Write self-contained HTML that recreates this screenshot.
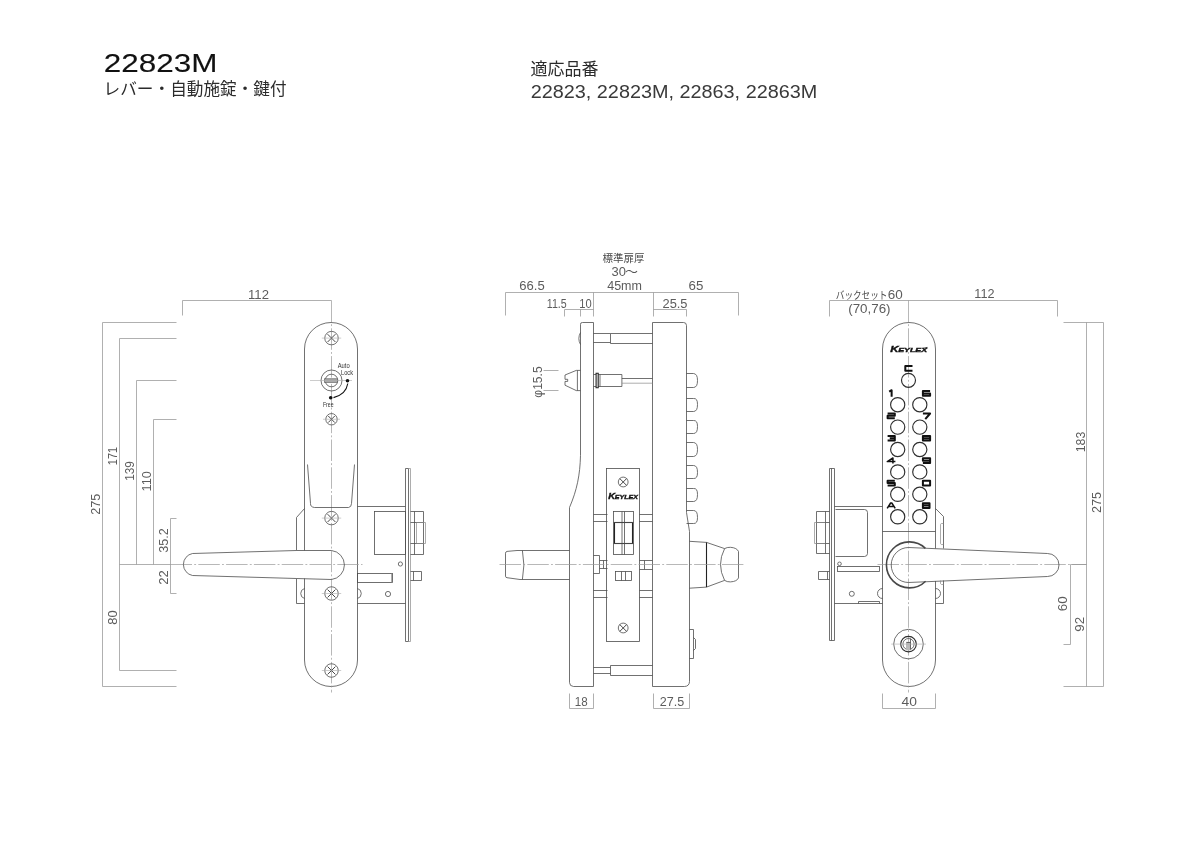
<!DOCTYPE html>
<html lang="ja"><head><meta charset="utf-8"><title>22823M</title>
<style>
html,body{margin:0;padding:0;background:#fff}
body{width:1200px;height:848px;overflow:hidden;font-family:"Liberation Sans",sans-serif}
svg{display:block;will-change:transform}
svg text{font-family:"Liberation Sans",sans-serif}
svg text.j{font-family:"Liberation Sans","Noto Sans CJK JP",sans-serif}
.o{fill:none;stroke:#4d4d4d;stroke-width:.8}
.x{fill:none;stroke:#333;stroke-width:.9}
.o2{fill:none;stroke:#8a8a8a;stroke-width:.7}
.o3{fill:none;stroke:#484848;stroke-width:1.6}
.o4{fill:none;stroke:#2e2e2e;stroke-width:1.15}

.lb{fill:none;stroke:#111;stroke-width:2;stroke-linejoin:round;stroke-linecap:butt}
.g2{fill:#bbb;stroke:none}
.d{fill:none;stroke:#969696;stroke-width:.75}
.c{fill:none;stroke:#999;stroke-width:.7;stroke-dasharray:21.5 2.2 1.9 2.2}
.c2{fill:none;stroke:#aaa;stroke-width:.6}
.g{fill:#aaa;stroke:#555;stroke-width:.6}
.k{fill:#111}
.k2{fill:none;stroke:#111;stroke-width:1.1}
.k3{fill:none;stroke:#222;stroke-width:1.1}
.t{fill:#5c5c5c}
.s{fill:#333}
.h{fill:#111;stroke:#111;stroke-width:.12}
.h2{fill:#3a3a3a}
.b{fill:#111;font-weight:bold}
.logo{fill:#111;font-weight:bold;font-style:italic;stroke:#111;stroke-width:.35}
</style></head>
<body>
<svg width="1200" height="848" viewBox="0 0 1200 848">
<text class="h" x="103.8" y="72" font-size="26.5" text-anchor="start" textLength="113.6" lengthAdjust="spacingAndGlyphs">22823M</text>
<text class="j" fill="#2b2b2b" x="103.6" y="95.4" font-size="16.6" text-anchor="start" textLength="183" lengthAdjust="spacingAndGlyphs">レバー・自動施錠・鍵付</text>
<text class="j" fill="#2b2b2b" x="530.4" y="75.4" font-size="17" text-anchor="start" textLength="68" lengthAdjust="spacingAndGlyphs">適応品番</text>
<text class="h2" x="530.7" y="98" font-size="17.5" text-anchor="start" textLength="286.6" lengthAdjust="spacingAndGlyphs">22823, 22823M, 22863, 22863M</text>
<path class="o" d="M304.5 550.5 V349.0 A26.5 26.5 0 0 1 357.5 349.0 V660.0 A26.5 26.5 0 0 1 304.5 660.0 V578.5"/>
<path class="c" d="M331.5 300.5L331.5 692.5"/>
<path class="c" d="M170.5 564.5L362.5 564.5"/>
<circle class="o" cx="331.5" cy="338.1" r="6.75"/>
<path class="x" d="M327.585 334.185L335.415 342.015M327.585 342.015L335.415 334.185"/>
<path class="c2" d="M321.8 338.1 L341.2 338.1"/>
<circle class="o" cx="331.5" cy="419.25" r="5.7"/>
<path class="x" d="M328.194 415.944L334.806 422.556M328.194 422.556L334.806 415.944"/>
<path class="c2" d="M323 419.25 L340 419.25"/>
<circle class="o" cx="331.5" cy="518.1" r="6.75"/>
<path class="x" d="M327.585 514.185L335.415 522.015M327.585 522.015L335.415 514.185"/>
<path class="c2" d="M321.8 518.1 L341.2 518.1"/>
<circle class="o" cx="331.5" cy="593.5" r="6.75"/>
<path class="x" d="M327.585 589.585L335.415 597.415M327.585 597.415L335.415 589.585"/>
<path class="c2" d="M321.8 593.5 L341.2 593.5"/>
<circle class="o" cx="331.5" cy="670.5" r="6.75"/>
<path class="x" d="M327.585 666.585L335.415 674.415M327.585 674.415L335.415 666.585"/>
<path class="c2" d="M321.8 670.5 L341.2 670.5"/>
<circle class="o" cx="331.5" cy="380.5" r="10.5"/>
<circle class="o" cx="331.5" cy="380.5" r="6.3"/>
<rect class="g" x="324.5" y="378.8" width="13" height="3.6"/>
<path class="c2" d="M310 380.5 L352 380.5"/>
<circle class="k" cx="347.5" cy="380.7" r="1.8"/>
<circle class="k" cx="330.7" cy="397.8" r="1.8"/>
<path class="k2" d="M347.8 383.5 Q346 394.5 333.5 397.6"/>
<text class="s" x="343.7" y="367.8" font-size="6.6" text-anchor="middle" textLength="12" lengthAdjust="spacingAndGlyphs">Auto</text>
<text class="s" x="347" y="374.6" font-size="6.6" text-anchor="middle" textLength="12" lengthAdjust="spacingAndGlyphs">Lock</text>
<text class="s" x="328.3" y="406.9" font-size="6.6" text-anchor="middle" textLength="10.7" lengthAdjust="spacingAndGlyphs">Free</text>
<path class="o" d="M307.5 464.5L310.5 503.5Q310.3 507 314.5 507.5H348.5Q351.5 507 351.5 503.5L354.5 464.5"/>
<path class="o" d="M331.5 550.5A14.6 14.6 0 0 1 331.5 579.5L296.5 578.5L192.5 575.5A11.2 11.2 0 0 1 192.5 553.5L296.5 550.5Z"/>
<path class="o" d="M304.5 508.5L296.5 517.5V550.5M296.5 578.5V603.5H304.5"/>
<path class="o" d="M304.5 588.5A5.2 5.2 0 0 0 304.5 598.5"/>
<path class="o" d="M357.5 588.5A5.2 5.2 0 0 1 357.5 598.5"/>
<path class="o" d="M357.5 506.5L405.5 506.5"/>
<path class="o" d="M357.5 603.5L405.5 603.5"/>
<rect class="o" x="374.5" y="511.5" width="31" height="43"/>
<rect class="o" x="357.5" y="573.5" width="35" height="9"/>
<path class="o2" d="M391.5 573.5L391.5 582.5"/>
<circle class="o" cx="400.4" cy="564" r="2.1"/>
<circle class="o" cx="388" cy="594" r="2.6"/>
<path class="o" d="M405.5 641.5V468.5H408.5V641.5Z"/>
<path class="o2" d="M408.5 468.5H410.5V641.5H408.5"/>
<path class="o" d="M410.5 511.5H423.5V554.5H410.5M414.5 511.5V554.5M410.5 522.5H423.5M410.5 543.5H423.5"/>
<path class="o2" d="M416.5 522.5H425.5V543.5H416.5Z"/>
<path class="o" d="M410.5 571.5H421.5V580.5H410.5M413.5 571.5V580.5"/>
<path class="d" d="M182.5 315.5L182.5 300.5L331.5 300.5"/>
<path class="d" d="M176.5 322.5L102.5 322.5L102.5 686.5L176.5 686.5"/>
<path class="d" d="M176.5 338.5L119.5 338.5L119.5 670.5L176.5 670.5"/>
<path class="d" d="M176.5 380.5L136.5 380.5L136.5 564.5"/>
<path class="d" d="M176.5 419.5L153.5 419.5L153.5 564.5"/>
<path class="d" d="M119.5 564.5L170.5 564.5"/>
<path class="d" d="M176.5 518.5L170.5 518.5L170.5 593.5L176.5 593.5"/>
<path class="o" d="M593.5 322.5H582.5Q580.3 322.4 580.5 324.5V455.5C580 475 577 490 569.5 507.5V682.5Q569.6 686.3 573.5 686.5H593.5Z"/>
<path class="o" d="M580.5 332.5Q577.2 338.7 580.5 344.5"/>
<path class="o" d="M652.5 322.5H683.5Q686.4 322.4 686.5 325.5V512.5L689.5 531.5V681.5Q689.3 686.3 684.5 686.5H652.5Z"/>
<path class="o" d="M593.5 333.5H610.5M593.5 342.5H610.5M652.5 333.5H610.5V343.5H652.5"/>
<path class="o" d="M593.5 667.5H610.5M593.5 673.5H610.5M652.5 665.5H610.5V675.5H652.5"/>
<path class="o" d="M580.5 370.4 H576.3 L565 375 V379.3 H567.7 V381.4 H565 V385.2 L576.3 390.6 H580.5 M577.4 370.4 V390.6"/>
<path class="d" d="M543.5 370.5L558.5 370.5"/>
<path class="d" d="M543.5 390.5L558.5 390.5"/>
<path class="o" d="M593.5 374.5 H596 M593.5 386.5 H596 M598.3 374.5 H621.9 V386.5 H598.3 M600 374.5 V386.5 M621.9 378.5 H652.5"/>
<path class="k3" d="M596.1 373.3 H598.2 V387.7 H596.1 Z"/>
<path class="o2" d="M621.9 383.2 H652.5"/>
<path class="o" d="M686.5 373.5H693.5Q697.6 373.9 697.5 380.5Q697.6 387.3 693.5 387.5H686.5"/>
<path class="o" d="M686.5 398.5H693.5Q697.6 398 697.5 404.5Q697.6 411.4 693.5 411.5H686.5"/>
<path class="o" d="M686.5 420.5H693.5Q697.6 420.2 697.5 426.5Q697.6 433.6 693.5 433.5H686.5"/>
<path class="o" d="M686.5 442.5H693.5Q697.6 442.7 697.5 449.5Q697.6 456.1 693.5 456.5H686.5"/>
<path class="o" d="M686.5 465.5H693.5Q697.6 465.5 697.5 472.5Q697.6 478.9 693.5 478.5H686.5"/>
<path class="o" d="M686.5 488.5H693.5Q697.6 488 697.5 494.5Q697.6 501.4 693.5 501.5H686.5"/>
<path class="o" d="M686.5 510.5H693.5Q697.6 510.4 697.5 517.5Q697.6 523.8 693.5 523.5H686.5"/>
<rect class="o" x="606.5" y="468.5" width="33" height="173"/>
<circle class="o" cx="623.2" cy="482" r="4.9"/>
<path class="x" d="M619.77 478.57L626.63 485.43M619.77 485.43L626.63 478.57"/>
<circle class="o" cx="623.2" cy="628" r="4.9"/>
<path class="x" d="M619.77 624.57L626.63 631.43M619.77 631.43L626.63 624.57"/>
<rect class="o" x="613.5" y="511.5" width="20" height="43"/>
<path class="o" d="M622 511.5 V554.5 M624.5 511.5 V554.5"/>
<rect class="k3" x="614.5" y="522.5" width="18" height="21"/>
<path class="o" d="M613.5 522.5H633.5M613.5 543.5H633.5"/>
<rect class="o" x="615.5" y="571.5" width="16" height="9"/>
<path class="o" d="M621.5 571.5V580.5M625.5 571.5V580.5"/>
<path class="o" d="M593.5 514.5L607.5 514.5"/>
<path class="o" d="M639.5 514.5L652.5 514.5"/>
<path class="o" d="M593.5 521.5L607.5 521.5"/>
<path class="o" d="M639.5 521.5L652.5 521.5"/>
<path class="o" d="M593.5 590.5L607.5 590.5"/>
<path class="o" d="M639.5 590.5L652.5 590.5"/>
<path class="o" d="M593.5 597.5L607.5 597.5"/>
<path class="o" d="M639.5 597.5L652.5 597.5"/>
<path class="o" d="M593.5 555.5H599.5V573.5H593.5M599.5 560.5H607.5M599.5 568.5H607.5M603.5 560.5V568.5"/>
<path class="o" d="M639.5 560.5H652.5M639.5 569.5H652.5M644.5 560.5V569.5"/>
<path class="o" d="M569.5 550.5 H517 L507 551.4 Q505.5 551.7 505.5 553.2 V576.2 Q505.5 577.5 507 577.7 L520 579.5 H569.5"/>
<path class="o" d="M522.4 550.5 Q525.4 565 522.4 579.5"/>
<path class="o" d="M689.5 541.3 L706.5 542.4 M706.5 587.1 L689.5 588.2 M706.5 542.4 L724.6 548.6 M706.5 587.1 L724.6 580.4"/>
<path class="k3" d="M706.5 542.4 V587.1"/>
<path class="o" d="M724.6 548.6 Q727 547.2 730.4 547.3 Q737 547.8 738.5 551.5 V577.9 Q737 581.5 730.4 581.9 Q727 582 724.6 580.4 Q716.4 564.5 724.6 548.6"/>
<path class="o" d="M689.5 629.5H693.5V658.5H689.5M693.5 637.5L695.5 639.5V648.5L693.5 650.5"/>
<path class="c" d="M499.5 564.5L743.5 564.5"/>
<text class="logo" x="608.3" y="498.9" font-size="8.36763" textLength="6.92" lengthAdjust="spacingAndGlyphs">K</text>
<text class="logo" x="614.82" y="498.9" font-size="5.68999" textLength="23.08" lengthAdjust="spacingAndGlyphs">EYLEX</text>
<path class="d" d="M505.5 315.5L505.5 292.5L738.5 292.5L738.5 315.5"/>
<path class="d" d="M593.5 292.5L593.5 316.5"/>
<path class="d" d="M653.5 292.5L653.5 316.5"/>
<path class="d" d="M564.5 316.5L564.5 309.5L593.5 309.5"/>
<path class="d" d="M580.5 309.5L580.5 316.5"/>
<path class="d" d="M653.5 309.5L686.5 309.5L686.5 316.5"/>
<text class="j" fill="#555" x="625" y="276.2" font-size="13" text-anchor="start" textLength="13" lengthAdjust="spacingAndGlyphs">～</text>
<text class="j" fill="#484848" x="602.48" y="262.3" font-size="10.5" text-anchor="start" textLength="42" lengthAdjust="spacingAndGlyphs">標準扉厚</text>
<path class="d" d="M569.5 693.5L569.5 708.5L593.5 708.5L593.5 693.5"/>
<path class="d" d="M653.5 693.5L653.5 708.5L689.5 708.5L689.5 693.5"/>
<path class="o" d="M935.5 581 V660.0 A26.5 26.5 0 0 1 882.5 660.0 V349.0 A26.5 26.5 0 0 1 935.5 349.0 V548.5"/>
<path class="c" d="M908.5 300.5L908.5 692.5"/>
<path class="c" d="M877.5 564.5L1086.5 564.5"/>
<path class="o" d="M882.5 531.5L935.5 531.5"/>
<circle class="o4" cx="908.5" cy="380.3" r="7"/>
<circle class="o4" cx="897.7" cy="404.7" r="7.1"/>
<circle class="o4" cx="919.8" cy="404.7" r="7.1"/>
<circle class="o4" cx="897.7" cy="427.1" r="7.1"/>
<circle class="o4" cx="919.8" cy="427.1" r="7.1"/>
<circle class="o4" cx="897.7" cy="449.5" r="7.1"/>
<circle class="o4" cx="919.8" cy="449.5" r="7.1"/>
<circle class="o4" cx="897.7" cy="471.9" r="7.1"/>
<circle class="o4" cx="919.8" cy="471.9" r="7.1"/>
<circle class="o4" cx="897.7" cy="494.3" r="7.1"/>
<circle class="o4" cx="919.8" cy="494.3" r="7.1"/>
<circle class="o4" cx="897.7" cy="516.8" r="7.1"/>
<circle class="o4" cx="919.8" cy="516.8" r="7.1"/>
<path class="lb" transform="translate(905.3 366)" d="M7.2 0H0V4.7H7.2"><title>C</title></path>
<path class="lb" transform="translate(887.6 391.1)" d="M1.584 0.564L4.032000000000001 -.9V5.7"><title>1</title></path>
<path class="lb" transform="translate(922.9 391.1)" d="M7.2 0H0V4.7H7.2V2.35H0"><title>6</title></path>
<path class="lb" transform="translate(887.6 413.5)" d="M0 0H7.2V2.35H0V4.7H7.2"><title>2</title></path>
<path class="lb" transform="translate(922.9 413.5)" d="M0 0H7.2L2.3760000000000003 5.6000000000000005"><title>7</title></path>
<path class="lb" transform="translate(887.6 435.9)" d="M0 0H7.2V4.7H0M7.2 2.35H2.16"><title>3</title></path>
<path class="lb" transform="translate(922.9 435.9)" d="M0 0H7.2V4.7H0ZM0 2.35H7.2"><title>8</title></path>
<path class="lb" style="stroke-width:1.55" transform="translate(887.6 458.3)" d="M5.328 5.2V-.3L-.3 3.29H7.8"><title>4</title></path>
<path class="lb" transform="translate(922.9 458.3)" d="M0 4.7H7.2V0H0V2.35H7.2"><title>9</title></path>
<path class="lb" transform="translate(887.6 480.7)" d="M7.2 0H0V2.35H7.2V4.7H0"><title>5</title></path>
<path class="lb" transform="translate(922.9 480.7)" d="M0 0H7.2V4.7H0Z"><title>0</title></path>
<path class="lb" style="stroke-width:1.55" transform="translate(887.6 503.2)" d="M-.4 5.2L3.024 -.2H4.176L7.6000000000000005 5.2M1.4400000000000002 3.384H5.760000000000001"><title>A</title></path>
<path class="lb" transform="translate(922.9 503.2)" d="M0 0H6.6240000000000006V4.7H0ZM0 2.35H6.6240000000000006"><title>B</title></path>
<text class="logo" x="890.3" y="352.1" font-size="8.36763" textLength="8.36" lengthAdjust="spacingAndGlyphs">K</text>
<text class="logo" x="898.26" y="352.1" font-size="5.68999" textLength="28.84" lengthAdjust="spacingAndGlyphs">EYLEX</text>
<path d="M923.1 348.352 L927.3 347.452" stroke="#111" stroke-width=".8"/>
<path class="o3" d="M925.4 548.3 A23 23 0 1 0 925.6 581.2"/>
<path class="o" d="M908.5 547.5A17.1 17.3 0 0 0 908.5 582.5L1047.5 576.5A11.4 11.4 0 0 0 1047.5 553.5Z"/>
<circle class="o" cx="908.5" cy="644.1" r="14.8"/>
<circle class="o4" cx="908.5" cy="644.1" r="7.8"/>
<circle class="o" cx="908.5" cy="644.1" r="5.6"/>
<rect class="g2" x="906" y="641.8" width="4.6" height="8.6"/>
<path class="o" d="M910.5 638.5V649.5M906.5 642.5H910.5"/>
<path class="c2" d="M891.2 644.1 L926 644.1"/>
<path class="o" d="M829.5 468.5H834.5V640.5H829.5ZM831.5 468.5V640.5"/>
<path class="o" d="M834.5 506.5L882.5 506.5"/>
<path class="o" d="M834.5 603.5L882.5 603.5"/>
<path class="o" d="M835.5 509.5H864.5Q867.5 509.5 867.5 512.5V553.5Q867.5 556.3 864.5 556.5H835.5"/>
<path class="o" d="M829.5 511.5H816.5V553.5H829.5M825.5 511.5V553.5M816.5 522.5H829.5M816.5 543.5H829.5"/>
<path class="o2" d="M825.5 522.5H814.5V543.5H825.5"/>
<path class="o" d="M829.5 571.5H818.5V579.5H829.5M827.5 571.5V579.5"/>
<circle class="o" cx="839.5" cy="563.8" r="1.8"/>
<circle class="o" cx="851.8" cy="593.8" r="2.5"/>
<rect class="o" x="837.5" y="566.5" width="42" height="5"/>
<path class="o" d="M858.5 603.5V601.5H879.5V603.5"/>
<path class="o" d="M882.5 588.5A5 5 0 0 0 882.5 598.5"/>
<path class="o" d="M935.5 588.5A5 5 0 0 1 935.5 598.5"/>
<path class="o" d="M935.5 508.5L943.5 516.5V548.5M943.5 580.5V603.5H935.5"/>
<path class="o2" d="M943.5 523.5H941.5Q940.6 523.7 940.5 524.5V543.5Q940.6 544.2 941.5 544.5H943.5M940.5 580.5V583.5Q940.6 584 941.5 584.5H943.5"/>
<path class="d" d="M829.5 316.5L829.5 300.5L1057.5 300.5L1057.5 316.5"/>
<text class="j" fill="#4a4a4a" x="835.8" y="298.7" font-size="10.5" text-anchor="start" textLength="51.5" lengthAdjust="spacingAndGlyphs">バックセット</text>
<path class="d" d="M1063.5 322.5L1103.5 322.5L1103.5 686.5L1063.5 686.5"/>
<path class="d" d="M1086.5 322.5L1086.5 686.5"/>
<path class="d" d="M1086.5 564.5L1070.5 564.5L1070.5 644.5L1063.5 644.5"/>
<path class="d" d="M882.5 693.5L882.5 708.5L935.5 708.5L935.5 693.5"/>
<text class="t" x="258.5" y="298.8" font-size="13.4" text-anchor="middle" textLength="20.9" lengthAdjust="spacingAndGlyphs">112</text>
<text class="t" x="100.2" y="504.2" font-size="13.4" text-anchor="middle" transform="rotate(-90 100.2 504.2)" textLength="21.1" lengthAdjust="spacingAndGlyphs">275</text>
<text class="t" x="116.8" y="456" font-size="13.4" text-anchor="middle" transform="rotate(-90 116.8 456)" textLength="18.3" lengthAdjust="spacingAndGlyphs">171</text>
<text class="t" x="134.3" y="471" font-size="13.4" text-anchor="middle" transform="rotate(-90 134.3 471)" textLength="19.6" lengthAdjust="spacingAndGlyphs">139</text>
<text class="t" x="151.4" y="481.3" font-size="13.4" text-anchor="middle" transform="rotate(-90 151.4 481.3)" textLength="20.2" lengthAdjust="spacingAndGlyphs">110</text>
<text class="t" x="168" y="540.5" font-size="13.4" text-anchor="middle" transform="rotate(-90 168 540.5)" textLength="24.4" lengthAdjust="spacingAndGlyphs">35.2</text>
<text class="t" x="168" y="577.5" font-size="13.4" text-anchor="middle" transform="rotate(-90 168 577.5)" textLength="14.4" lengthAdjust="spacingAndGlyphs">22</text>
<text class="t" x="117" y="617.5" font-size="13.4" text-anchor="middle" transform="rotate(-90 117 617.5)" textLength="14.4" lengthAdjust="spacingAndGlyphs">80</text>
<text class="t" x="532" y="290" font-size="13.4" text-anchor="middle" textLength="25.4" lengthAdjust="spacingAndGlyphs">66.5</text>
<text class="t" x="695.9" y="290" font-size="13.4" text-anchor="middle" textLength="14.8" lengthAdjust="spacingAndGlyphs">65</text>
<text class="t" x="624.6" y="290" font-size="13.4" text-anchor="middle" textLength="34.8" lengthAdjust="spacingAndGlyphs">45mm</text>
<text class="t" x="618.7" y="275.6" font-size="13.4" text-anchor="middle" textLength="14.4" lengthAdjust="spacingAndGlyphs">30</text>
<text class="t" x="556.8" y="308" font-size="13.4" text-anchor="middle" textLength="19.9" lengthAdjust="spacingAndGlyphs">11.5</text>
<text class="t" x="585.5" y="308" font-size="13.4" text-anchor="middle" textLength="12.4" lengthAdjust="spacingAndGlyphs">10</text>
<text class="t" x="675" y="308" font-size="13.4" text-anchor="middle" textLength="25" lengthAdjust="spacingAndGlyphs">25.5</text>
<text class="t" x="541.6" y="382" font-size="13.4" text-anchor="middle" transform="rotate(-90 541.6 382)" textLength="31.4" lengthAdjust="spacingAndGlyphs">φ15.5</text>
<text class="t" x="581.3" y="705.8" font-size="13.4" text-anchor="middle" textLength="12.9" lengthAdjust="spacingAndGlyphs">18</text>
<text class="t" x="672" y="705.8" font-size="13.4" text-anchor="middle" textLength="24.4" lengthAdjust="spacingAndGlyphs">27.5</text>
<text class="t" x="895.3" y="298.6" font-size="13.4" text-anchor="middle" textLength="15" lengthAdjust="spacingAndGlyphs">60</text>
<text class="t" x="869.4" y="313" font-size="13.4" text-anchor="middle" textLength="42.4" lengthAdjust="spacingAndGlyphs">(70,76)</text>
<text class="t" x="984.4" y="298.3" font-size="13.4" text-anchor="middle" textLength="20.2" lengthAdjust="spacingAndGlyphs">112</text>
<text class="t" x="1084.5" y="442" font-size="13.4" text-anchor="middle" transform="rotate(-90 1084.5 442)" textLength="20.4" lengthAdjust="spacingAndGlyphs">183</text>
<text class="t" x="1101" y="502.5" font-size="13.4" text-anchor="middle" transform="rotate(-90 1101 502.5)" textLength="21.1" lengthAdjust="spacingAndGlyphs">275</text>
<text class="t" x="1067.3" y="603.8" font-size="13.4" text-anchor="middle" transform="rotate(-90 1067.3 603.8)" textLength="14.9" lengthAdjust="spacingAndGlyphs">60</text>
<text class="t" x="1084.5" y="624.3" font-size="13.4" text-anchor="middle" transform="rotate(-90 1084.5 624.3)" textLength="14.9" lengthAdjust="spacingAndGlyphs">92</text>
<text class="t" x="909.3" y="705.8" font-size="13.4" text-anchor="middle" textLength="15.4" lengthAdjust="spacingAndGlyphs">40</text>
</svg>
</body></html>
